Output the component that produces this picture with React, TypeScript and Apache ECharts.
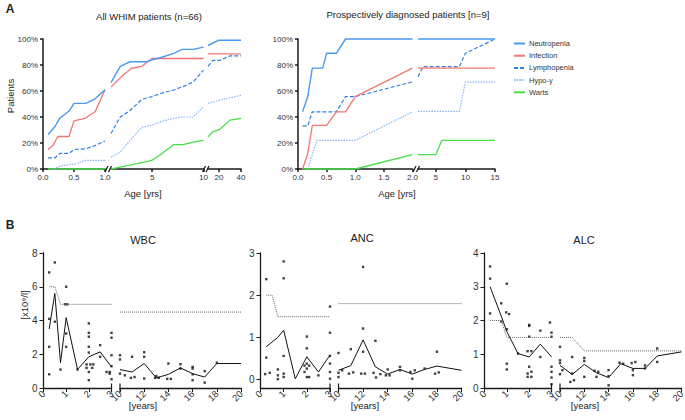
import React, { useEffect, useRef } from "react";
import * as echarts from "echarts";

const FONT = "'Liberation Sans', Arial, Helvetica, sans-serif";
const AX = "#1a1a1a";

// ---------- Panel A: cumulative proportion of patients (%) ----------
const legendNames = ["Neutropenia", "Infection", "Lymphopenia", "Hypo-γ", "Warts"];

// All WHIM patients (n=66) — three axis segments: 0–1, 1–10, 10–40 yrs
const neutroAll = [
  [[0.08, 26.5], [0.19, 32.5], [0.27, 39], [0.42, 44.6], [0.5, 50.5], [0.69, 50.5], [0.84, 54], [1, 61]],
  [[1, 66.5], [1.9, 79], [2.85, 82.5], [4.5, 82.5], [5, 84], [5.8, 85.6], [7.1, 89], [7.9, 92], [9, 92], [10, 93.8]],
  [[10, 95], [19.4, 99], [40, 99]],
];
const infectAll = [
  [[0.08, 15], [0.16, 18], [0.24, 25], [0.42, 25], [0.5, 37], [0.68, 39], [0.84, 44], [1, 61]],
  [[1, 63], [2, 71], [3, 77.5], [4, 79], [5, 85], [10, 85]],
  [[10, 88.5], [40, 88.5]],
];
const lymphoAll = [
  [[0.08, 8.5], [0.19, 8.5], [0.27, 12], [0.42, 12], [0.5, 15], [0.69, 15.5], [0.84, 18], [1, 21.6]],
  [[1, 27.3], [1.9, 40], [2.85, 45], [4, 53.6], [5, 55.7], [6.1, 58.8], [7.1, 60.8], [8, 63.4], [9, 67], [10, 76]],
  [[10, 79], [14.4, 83.5], [20.6, 83.5], [30, 87], [40, 87]],
];
const hypoAll = [
  [[0.17, 0], [0.27, 2], [0.42, 3.4], [0.5, 3.6], [0.69, 6.7], [1, 6.7]],
  [[1, 9.3], [1.9, 13], [2.85, 22], [4, 32], [5, 33.8], [6.1, 37], [7.1, 39], [7.9, 40], [9, 40], [10, 48]],
  [[10, 50.5], [20.6, 53], [40, 56.7]],
];
const wartsAll = [
  [[0.08, 0], [1, 0]],
  [[1, 0], [1.9, 1.5], [3.2, 3.6], [5, 6.7], [5.8, 11], [7.1, 18.8], [8, 18.8], [9, 20.6], [10, 22]],
  [[10, 24.7], [14.4, 28.6], [20.6, 30.4], [30, 37.6], [40, 39]],
];

// Prospectively diagnosed patients (n=9) — two segments: 0–2, 2–15 yrs
const neutroPro = [
  [[0.08, 44], [0.17, 55.7], [0.25, 77.6], [0.43, 77.6], [0.5, 89], [0.67, 89], [0.83, 100], [2, 100]],
  [[2, 100], [15, 100]],
];
const infectPro = [
  [[0.08, 0], [0.17, 11.9], [0.25, 33.5], [0.5, 33.5], [0.67, 44], [0.83, 44], [1, 55.7], [2, 77.6]],
  [[2, 77.6], [15, 77.6]],
];
const lymphoPro = [
  [[0.08, 33.2], [0.17, 33.2], [0.25, 44], [0.67, 44], [0.83, 55.7], [1, 55.7], [2, 67]],
  [[2, 71], [2.85, 78.8], [9, 78.8], [10, 89], [15, 100]],
];
const hypoPro = [
  [[0.17, 0], [0.33, 22], [1, 22], [2, 44]],
  [[2, 44.4], [9, 44.4], [10, 66.8], [15, 66.8]],
];
const wartsPro = [
  [[0.08, 0], [1, 0], [2, 11]],
  [[2, 11], [5, 11], [6, 22], [15, 22]],
];

// ---------- Panel B: blood counts (x10^9/l) vs age (years) ----------
const wbcTicks = [0, 2, 4, 6, 8];
const ancTicks = [0, 1, 2, 3];
const alcTicks = [0, 1, 2, 3, 4];

const wbcPts1 = [[0.25, 6.85], [0.25, 4.1], [0.25, 2.44], [0.25, 0.81], [0.5, 7.44], [0.5, 3.93], [0.75, 1.09], [1, 6.0], [0.95, 4.96], [1.05, 4.96], [1, 3.23], [1, 2.44], [1.5, 1.1], [2, 3.83], [2, 3.27], [2, 3.04], [2, 2.44], [2, 2.1], [1.9, 1.4], [2.07, 1.4], [2.2, 1.4], [1.9, 1.19], [2.15, 1.19], [2, 0.95], [2, 0.46], [2.5, 2.54], [2.5, 1.85], [3, 3.27], [3, 2.98], [3, 1.94], [3, 1.29], [2.78, 0.95], [2.92, 0.95], [2.92, 0.85], [3, 0.52]];
const wbcPts2 = [[10, 1.94], [10, 1.69], [10, 0.85], [10.4, 0.75], [11, 1.85], [10.9, 0.6], [11.2, 0.65], [12, 2.12], [12, 1.85], [12, 0.56], [13, 0.71], [12.9, 0.6], [13.2, 0.6], [14, 1.45], [13.9, 0.54], [14.2, 0.54], [15, 1.41], [15, 1.15], [16, 1.25], [16, 1.15], [16, 0.81], [16, 0.46], [17, 1.0], [17, 0.32], [18, 1.5]];
const wbcMean1 = [[0.25, 3.5], [0.5, 5.6], [0.75, 1.5], [1, 4.17], [1.5, 1.1], [2, 1.85], [2.5, 2.14], [3, 1.25]];
const wbcMean2 = [[10, 1.09], [11, 0.95], [12, 1.45], [13, 0.6], [14, 0.81], [15, 1.19], [16, 0.85], [17, 0.65], [18, 1.45], [20, 1.45]];
const wbcRef1 = [[0.25, 6], [0.5, 6], [0.75, 4.96], [3, 4.96]];
const wbcRef2 = [[10, 4.5], [20, 4.5]];

const ancPts1 = [[0.25, 2.38], [0.25, 0.52], [0.2, 0.13], [0.4, 0.16], [0.75, 0.24], [0.75, 0.1], [0.75, 0.01], [1, 2.8], [1, 2.4], [1, 0.56], [1, 0.14], [1, 0.06], [2, 1.02], [2, 0.74], [2, 0.38], [1.9, 0.33], [2.1, 0.33], [2, 0.26], [1.9, 0.18], [2, 0.06], [2.1, 0.06], [2.5, 0.1], [3, 1.73], [3, 1.11], [3, 0.56], [3, 0.38], [3, 0.18], [3, 0.02]];
const ancPts2 = [[10, 0.63], [10, 0.16], [10, 0.06], [10.3, 0.22], [11, 0.72], [10.85, 0.14], [11.2, 0.17], [12, 2.67], [12, 1.21], [12, 0.66], [11.85, 0.14], [12.15, 0.14], [13, 0.92], [12.85, 0.16], [13.05, 0.05], [13.4, 0.13], [14, 0.24], [13.85, 0.1], [14.15, 0.1], [15, 0.3], [15, 0.22], [15.85, 0.18], [16.2, 0.22], [16, 0.02], [17, 0.26], [18, 0.66], [17.85, 0.14], [18.15, 0.17]];
const ancMean1 = [[0.25, 0.78], [0.75, 1.0], [1, 1.17], [1.5, 0.02], [2, 0.54], [2.5, 0.18], [3, 0.58]];
const ancMean2 = [[10, 0.22], [11, 0.33], [12, 0.94], [13, 0.3], [14, 0.13], [15, 0.24], [16, 0.13], [17, 0.24], [18, 0.32], [20, 0.22]];
const ancRef1 = [[0.25, 2], [0.5, 2], [0.75, 1.49], [3, 1.49]];
const ancRef2 = [[10, 1.8], [20, 1.8]];

const alcPts1 = [[0.25, 3.6], [0.25, 3.24], [0.25, 2.21], [0.75, 2.51], [0.75, 1.97], [1, 3.09], [0.97, 2.24], [1.1, 2.19], [1, 1.74], [1, 0.72], [1, 0.55], [1.5, 1.02], [2, 1.87], [2, 1.84], [2, 1.52], [1.93, 1.09], [2.1, 1.09], [2, 0.63], [1.93, 0.43], [2.1, 0.48], [1.93, 0.33], [2.1, 0.33], [2.5, 1.7], [2.5, 0.92], [2.93, 1.94], [3, 1.64], [3, 1.52], [3, 0.63], [3, 0.48], [3, 0.31], [3, 0.11]];
const alcPts2 = [[10, 1.22], [10, 0.82], [10, 0.74], [10, 0.41], [10.2, 0.53], [11, 0.92], [10.85, 0.18], [11.15, 0.23], [11, 0.43], [12, 0.89], [12, 0.8], [12, 0.33], [12.85, 0.51], [13.15, 0.48], [13, 0.33], [14, 0.53], [14, 0.35], [14, 0.08], [14.9, 0.75], [15.2, 0.72], [15.9, 0.74], [16.2, 0.77], [16, 0.53], [16, 0.38], [17, 0.58], [17, 0.67], [18, 1.17], [18, 0.77]];
const alcMean1 = [[0.25, 3.0], [0.75, 2.13], [1, 1.67], [1.5, 1.02], [2, 0.92], [2.5, 1.3], [3, 0.92]];
const alcMean2 = [[10, 0.67], [11, 0.4], [12, 0.7], [13, 0.45], [14, 0.31], [15, 0.72], [16, 0.58], [17, 0.58], [18, 0.95], [20, 1.07]];
const alcRef1 = [[0.25, 2], [0.75, 2], [1, 1.5], [3, 1.5]];
const alcRef2 = [[10, 1.5], [11, 1.5], [12, 1.1], [20, 1.1]];

const lineStyles: Record<string, { color: string; type: any; width: number }> = {
  Neutropenia: { color: "#4b98f0", type: "solid", width: 1.4 },
  Infection: { color: "#f47474", type: "solid", width: 1.3 },
  Lymphopenia: { color: "#2f80e4", type: [4, 2], width: 1.2 },
  "Hypo-γ": { color: "#86b6f2", type: [1.5, 1.2], width: 1.2 },
  Warts: { color: "#46e046", type: "solid", width: 1.3 },
};

export default function App() {
  const ref = useRef<HTMLDivElement>(null);
  useEffect(() => {
    const chart = echarts.init(ref.current!, null, { renderer: "svg" });
    const grid: any[] = [];
    const xAxis: any[] = [];
    const yAxis: any[] = [];
    const series: any[] = [];

    const addGrid = (left: number, top: number, width: number, height: number, x: any, y: any) => {
      grid.push({ left, top, width, height, containLabel: false, outerBoundsMode: "none" });
      const i = grid.length - 1;
      xAxis.push({ gridIndex: i, ...x });
      yAxis.push({ gridIndex: i, ...y });
      return i;
    };

    // ---- panel A axis builders
    const axAx = (min: number, max: number, ticks: number[], fmt: (v: number) => string) => ({
      type: "value", min, max,
      axisLine: { show: true, onZero: false, lineStyle: { color: AX, width: 1.5 } },
      axisTick: { show: true, length: 3, customValues: ticks, lineStyle: { color: AX, width: 1.5 } },
      axisLabel: { customValues: ticks, formatter: fmt, fontSize: 8, color: "#333", margin: 4, fontFamily: FONT },
      splitLine: { show: false },
    });
    const ayA = (show: boolean) => ({
      type: "value", min: 0, max: 100, interval: 20, show,
      axisLine: { show: true, onZero: false, lineStyle: { color: AX, width: 1.5 } },
      axisTick: { show: true, length: 3, lineStyle: { color: AX, width: 1.5 } },
      axisLabel: { formatter: "{value}%", fontSize: 8, color: "#333", margin: 5, fontFamily: FONT },
      splitLine: { show: false },
    });
    const f1 = (v: number) => v.toFixed(1);
    const f0 = (v: number) => String(v);

    const aTop = 39, aH = 130;
    const gA = [
      addGrid(43, aTop, 62, aH, axAx(0, 1, [0, 0.5, 1], f1), ayA(true)),
      addGrid(111, aTop, 92.5, aH, axAx(1, 10, [5, 10], f0), ayA(false)),
      addGrid(208, aTop, 33, aH, axAx(10, 40, [20, 40], f0), ayA(false)),
    ];
    const gP = [
      addGrid(298, aTop, 114.5, aH, axAx(0, 2, [0, 0.5, 1, 1.5, 2], f1), ayA(true)),
      addGrid(418, aTop, 77, aH, axAx(2, 15, [5, 10, 15], f0), ayA(false)),
    ];

    const allSets: Record<string, number[][][]> = {
      Neutropenia: neutroAll, Infection: infectAll, Lymphopenia: lymphoAll, "Hypo-γ": hypoAll, Warts: wartsAll,
    };
    const proSets: Record<string, number[][][]> = {
      Neutropenia: neutroPro, Infection: infectPro, Lymphopenia: lymphoPro, "Hypo-γ": hypoPro, Warts: wartsPro,
    };
    const pushA = (sets: Record<string, number[][][]>, grids: number[]) => {
      legendNames.forEach((name) => {
        sets[name].forEach((data, k) => {
          const s = lineStyles[name];
          series.push({
            type: "line", name, data, xAxisIndex: grids[k], yAxisIndex: grids[k],
            symbol: "none", clip: false, silent: true, z: 2 + legendNames.length - legendNames.indexOf(name),
            lineStyle: { color: s.color, type: s.type, width: s.width },
            itemStyle: { color: s.color },
          });
        });
      });
    };
    pushA(allSets, gA);
    pushA(proSets, gP);

    // ---- panel B axis builders
    const bxAx = (min: number, max: number, interval: number) => ({
      type: "value", min, max, interval,
      axisLine: { show: true, onZero: false, lineStyle: { color: AX, width: 1.3 } },
      axisTick: { show: true, length: 4, lineStyle: { color: AX, width: 1 } },
      axisLabel: { rotate: 45, fontSize: 9.5, color: "#333", margin: 4, fontFamily: FONT },
      splitLine: { show: false },
    });
    const byAx = (show: boolean, min: number, max: number, vals: number[]) => ({
      type: "value", min, max, show,
      axisLine: { show: true, onZero: false, lineStyle: { color: AX, width: 1.3 } },
      axisTick: { show: true, length: 4, customValues: vals, lineStyle: { color: AX, width: 1 } },
      axisLabel: {
        customValues: vals, formatter: (v: number) => String(v),
        fontSize: 10, color: "#333", margin: 6, fontFamily: FONT, hideOverlap: false,
        showMinLabel: true, showMaxLabel: true,
      },
      splitLine: { show: false },
    });
    const bTop = 253, bH = 135;
    const panels = [
      { l1: 43.5, w1: 68, l2: 120, w2: 121, ymin: 0, ymax: 8, vals: wbcTicks, pts: [wbcPts1, wbcPts2], mean: [wbcMean1, wbcMean2], refl: [wbcRef1, wbcRef2] },
      { l1: 260.5, w1: 69.5, l2: 338.5, w2: 123, ymin: -0.2, ymax: 3, vals: ancTicks, pts: [ancPts1, ancPts2], mean: [ancMean1, ancMean2], refl: [ancRef1, ancRef2] },
      { l1: 484.5, w1: 67, l2: 560, w2: 121.5, ymin: 0, ymax: 4, vals: alcTicks, pts: [alcPts1, alcPts2], mean: [alcMean1, alcMean2], refl: [alcRef1, alcRef2] },
    ];
    panels.forEach((p) => {
      const g1 = addGrid(p.l1, bTop, p.w1, bH, bxAx(0, 3, 1), byAx(true, p.ymin, p.ymax, p.vals));
      const g2 = addGrid(p.l2, bTop, p.w2, bH, bxAx(10, 20, 2), byAx(false, p.ymin, p.ymax, p.vals));
      [g1, g2].forEach((g, k) => {
        series.push({
          type: "line", data: p.refl[k], xAxisIndex: g, yAxisIndex: g, symbol: "none", silent: true, clip: false,
          lineStyle: { color: "#666", width: 1, type: [1, 1] },
        });
        series.push({
          type: "line", data: p.mean[k], xAxisIndex: g, yAxisIndex: g, symbol: "none", silent: true, clip: false,
          lineStyle: { color: "#111", width: 1 },
        });
        series.push({
          type: "scatter", data: p.pts[k], xAxisIndex: g, yAxisIndex: g, symbol: "rect", symbolSize: 2.4, silent: true,
          itemStyle: { color: "#111" },
        });
      });
    });

    const txt = (x: number, y: number, text: string, fontSize: number, extra: any = {}) => ({
      type: "text", x, y, silent: true, ...extra,
      style: {
        text, fontSize, fill: "#222", fontFamily: FONT,
        align: "center", verticalAlign: "middle", textAlign: "center", textVerticalAlign: "middle",
        ...(extra.style || {}),
      },
    });
    const slash = (x: number, y: number) => ({
      type: "line", silent: true,
      shape: { x1: x, y1: y + 3, x2: x + 3, y2: y - 3 },
      style: { stroke: AX, lineWidth: 1.3 },
    });
    const vbar = (x: number, y: number) => ({
      type: "line", silent: true,
      shape: { x1: x, y1: y - 4.5, x2: x, y2: y + 4.5 },
      style: { stroke: AX, lineWidth: 1.2 },
    });
    const axisY = aTop + aH;
    const bY = bTop + bH;
    const graphic: any[] = [
      txt(10, 9, "A", 12, { style: { fontWeight: "bold" } }),
      txt(10, 225, "B", 12, { style: { fontWeight: "bold" } }),
      txt(149, 16, "All WHIM patients (n=66)", 9.5),
      txt(408, 14, "Prospectively diagnosed patients [n=9]", 9.5),
      txt(10, 96, "Patients", 9.5, { rotation: Math.PI / 2 }),
      txt(143, 193, "Age [yrs]", 9.5),
      txt(397, 193, "Age [yrs]", 9.5),
      txt(143, 240, "WBC", 11),
      txt(362, 238, "ANC", 11),
      txt(584, 240, "ALC", 11),
      txt(143, 405, "[years]", 9.5),
      txt(365, 405, "[years]", 9.5),
      txt(585, 405, "[years]", 9.5),
      txt(24.5, 305, "[x10⁹/l]", 9.5, { rotation: Math.PI / 2 }),
      slash(105, axisY), slash(108.5, axisY),
      slash(202.5, axisY), slash(206, axisY),
      slash(413, axisY), slash(416.5, axisY),
    ];
    panels.forEach((p) => {
      graphic.push(vbar(p.l1 + p.w1, bY), vbar(p.l2, bY));
    });

    chart.setOption({
      animation: false,
      textStyle: { fontFamily: FONT },
      grid, xAxis, yAxis, series, graphic,
      legend: {
        orient: "vertical", left: 508, top: 34, itemWidth: 11, itemHeight: 9, itemGap: 3.2,
        selectedMode: false, data: legendNames,
        itemStyle: { opacity: 0 },
        lineStyle: { width: 2 },
        textStyle: { fontSize: 7.5, color: "#333", fontFamily: FONT, lineHeight: 9, padding: [0, 0, 0, -1] },
      },
    });
    return () => chart.dispose();
  }, []);
  return <div ref={ref} style={{ position: "absolute", left: 0, top: 0, width: 685, height: 420 }} />;
}
